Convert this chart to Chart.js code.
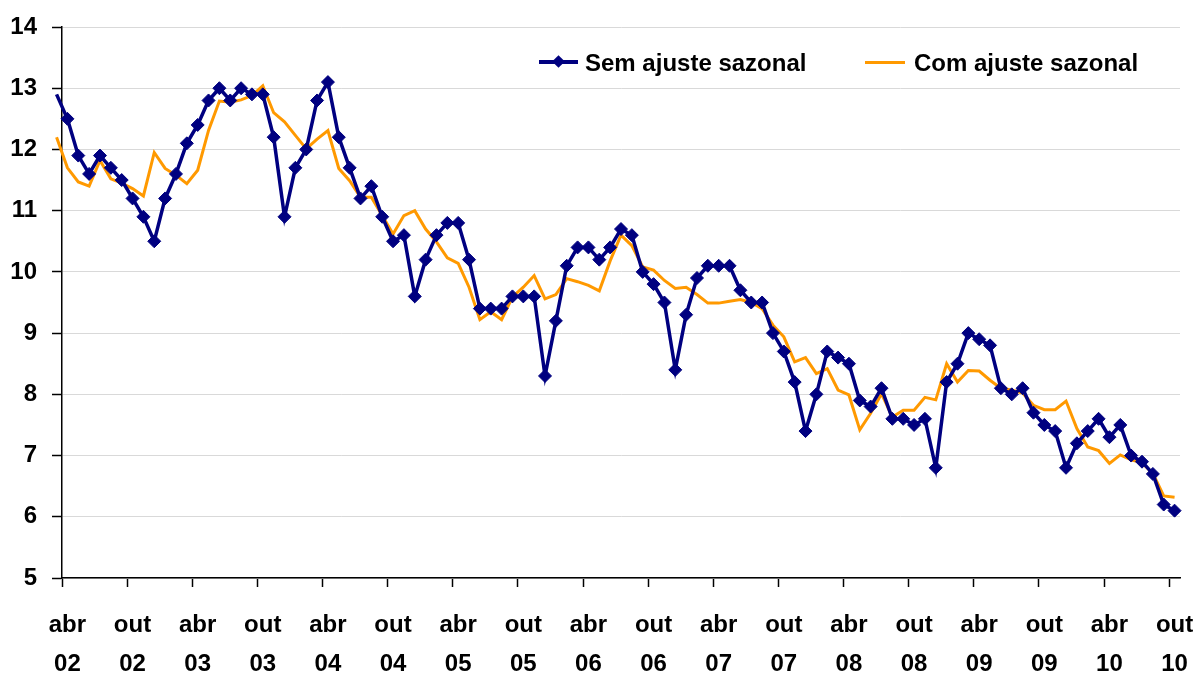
<!DOCTYPE html>
<html>
<head>
<meta charset="utf-8">
<title>Taxa de desocupação</title>
<script src="https://cdn.jsdelivr.net/npm/chart.js@4.4.1/dist/chart.umd.min.js"></script>
<style>
  html, body { margin: 0; padding: 0; background: #fff; }
  #wrap { position: relative; width: 1199px; height: 677px; }
  #legend { position: absolute; left: 0; top: 0; width: 1199px; height: 100px; pointer-events: none;
            font-family: 'Liberation Sans', Arial, sans-serif; font-weight: bold; font-size: 24px; color: #000; }
  .txt { position: absolute; top: 48px; height: 30px; line-height: 30px; white-space: nowrap; }
  .ln { position: absolute; height: 3.5px; }
  .dia { position: absolute; width: 9px; height: 9px; background: #000080; transform: rotate(45deg); }
</style>
</head>
<body>
<div id="wrap">
  <canvas id="mycanvas" width="1199" height="677"></canvas>
  <div id="legend">
    <div class="ln" style="left:539px; top:60px; width:39px; background:#000080;"></div>
    <div class="dia" style="left:554px; top:57px;"></div>
    <div class="txt" style="left:585px;">Sem ajuste sazonal</div>
    <div class="ln" style="left:865px; top:60.5px; width:40px; height:3px; background:#FF9900;"></div>
    <div class="txt" style="left:914px;">Com ajuste sazonal</div>
  </div>
</div>
<script>
// mar/02 .. out/10, one value per month
var semAjuste = [
  12.9, 12.5, 11.9, 11.6, 11.9, 11.7, 11.5, 11.2, 10.9, 10.5,
  11.2, 11.6, 12.1, 12.4, 12.8, 13.0, 12.8, 13.0, 12.9, 12.9, 12.2, 10.9,
  11.7, 12.0, 12.8, 13.1, 12.2, 11.7, 11.2, 11.4, 10.9, 10.5, 10.6, 9.6,
  10.2, 10.6, 10.8, 10.8, 10.2, 9.4, 9.4, 9.4, 9.6, 9.6, 9.6, 8.3,
  9.2, 10.1, 10.4, 10.4, 10.2, 10.4, 10.7, 10.6, 10.0, 9.8, 9.5, 8.4,
  9.3, 9.9, 10.1, 10.1, 10.1, 9.7, 9.5, 9.5, 9.0, 8.7, 8.2, 7.4,
  8.0, 8.7, 8.6, 8.5, 7.9, 7.8, 8.1, 7.6, 7.6, 7.5, 7.6, 6.8,
  8.2, 8.5, 9.0, 8.9, 8.8, 8.1, 8.0, 8.1, 7.7, 7.5, 7.4, 6.8,
  7.2, 7.4, 7.6, 7.3, 7.5, 7.0, 6.9, 6.7, 6.2, 6.1
];
var comAjuste = [
  12.2, 11.7, 11.47, 11.4, 11.82, 11.52, 11.45, 11.36, 11.24, 11.95,
  11.69, 11.58, 11.44, 11.66, 12.31, 12.79, 12.77, 12.81, 12.88, 13.04, 12.6, 12.45,
  12.23, 12.01, 12.17, 12.31, 11.69, 11.49, 11.22, 11.22, 10.92, 10.62, 10.92, 11.0,
  10.7, 10.49, 10.23, 10.14, 9.75, 9.22, 9.35, 9.22, 9.59, 9.75, 9.94, 9.56,
  9.63, 9.89, 9.84, 9.78, 9.69, 10.18, 10.6, 10.43, 10.08, 10.03, 9.86, 9.73,
  9.75, 9.63, 9.49, 9.49, 9.52, 9.55, 9.5, 9.4, 9.13, 8.94, 8.53, 8.6,
  8.34, 8.42, 8.07, 7.99, 7.42, 7.69, 8.01, 7.63, 7.74, 7.74, 7.95, 7.91,
  8.5, 8.2, 8.39, 8.38, 8.23, 8.1, 8.07, 8.02, 7.82, 7.75, 7.75, 7.89,
  7.44, 7.14, 7.08, 6.87, 7.01, 6.93, 6.88, 6.71, 6.34, 6.32
];
var tickLabels = [
  ['abr', '02'], ['out', '02'], ['abr', '03'], ['out', '03'], ['abr', '04'], ['out', '04'],
  ['abr', '05'], ['out', '05'], ['abr', '06'], ['out', '06'], ['abr', '07'], ['out', '07'],
  ['abr', '08'], ['out', '08'], ['abr', '09'], ['out', '09'], ['abr', '10'], ['out', '10']
];
var yMin = 5, yMax = 14;

var font = { family: "'Liberation Sans', Arial, sans-serif", size: 24, weight: 'bold', lineHeight: 1.625 };

function toPoints(arr) {
  return arr.map(function (v, i) { return { x: i, y: v }; });
}

var ctx = document.getElementById('mycanvas');
var lineChart = new Chart(ctx, {
  type: 'line',
  data: {
    datasets: [
      {
        label: 'Sem ajuste sazonal',
        data: toPoints(semAjuste),
        borderColor: '#000080',
        backgroundColor: '#000080',
        borderWidth: 3.5,
        pointStyle: 'rectRot',
        pointRadius: function (c) { return c.dataIndex === 0 ? 0 : 6.5; },
        pointBackgroundColor: '#000080',
        pointBorderColor: '#000080',
        pointBorderWidth: 1,
        tension: 0,
        clip: false
      },
      {
        label: 'Com ajuste sazonal',
        data: toPoints(comAjuste),
        borderColor: '#FF9900',
        backgroundColor: '#FF9900',
        borderWidth: 3,
        pointRadius: 0,
        tension: 0,
        clip: false
      }
    ]
  },
  options: {
    responsive: false,
    animation: false,
    devicePixelRatio: 1,
    layout: { padding: { top: 27, right: 19, bottom: 0, left: 0 } },
    plugins: { legend: { display: false }, tooltip: { enabled: false } },
    scales: {
      x: {
        type: 'linear',
        min: 0.5,
        max: semAjuste.length - 0.5,
        afterBuildTicks: function (s) {
          s.ticks = tickLabels.map(function (_, k) { return { value: 0.5 + 6 * k }; });
        },
        afterFit: function (s) { s.height = 99; s.paddingLeft = 0; s.paddingRight = 0; },
        ticks: {
          autoSkip: false, maxRotation: 0, padding: 19, labelOffset: 5.4,
          color: '#000', font: font,
          callback: function (v, i) { return tickLabels[i]; }
        },
        grid: { drawOnChartArea: false, drawTicks: true, tickLength: 9, tickColor: '#000', tickWidth: 1.5 },
        border: { color: '#000', width: 1.5 }
      },
      y: {
        min: yMin,
        max: yMax,
        afterFit: function (s) { s.width = 62; s.paddingTop = 0; s.paddingBottom = 0; },
        ticks: { stepSize: 1, padding: 15, color: '#000', font: font },
        grid: { color: '#d9d9d9', lineWidth: 1, tickLength: 10, tickColor: '#000', tickWidth: 1.5 },
        border: { color: '#000', width: 1.5 }
      }
    }
  }
});
</script>
</body>
</html>
